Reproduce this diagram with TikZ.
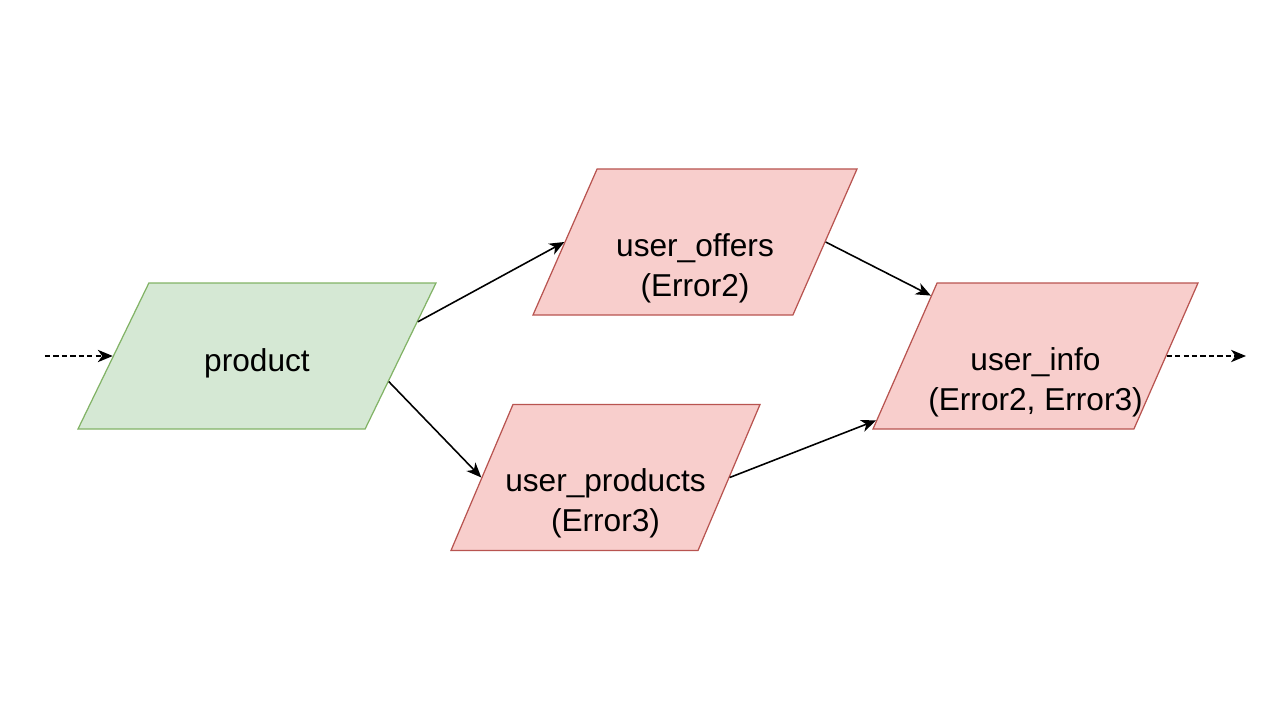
\documentclass[tikz,border=0pt]{standalone}
\usepackage{fontspec}
\setmainfont{Liberation Sans}
\usetikzlibrary{shapes.geometric,arrows.meta,positioning}
\definecolor{goodfill}{HTML}{D5E8D4}
\definecolor{goodline}{HTML}{82B366}
\definecolor{errfill}{HTML}{F8CECC}
\definecolor{errline}{HTML}{B85450}

\begin{document}
\begin{tikzpicture}[
  dbox/.style={trapezium,trapezium stretches body,trapezium left angle=66.3,trapezium right angle=113.7,
               text height=2.54cm,text depth=0.38cm,inner xsep=-6pt,inner ysep=0pt,
               align=center,line width=0.7pt,font=\fontsize{18}{22.7}\selectfont},
  goodbox/.style={dbox,draw=goodline,fill=goodfill,text height=1.76cm,text depth=1.16cm},
  errbox/.style={dbox,draw=errline,fill=errfill},
  arr/.style={-{Stealth[length=8.5pt,width=7pt,inset=2.5pt]},line width=0.9pt},
  flow/.style={arr,dash pattern=on 3pt off 1.8pt}
]
\useasboundingbox (-5.14,-7.28) rectangle (20.46,7.12);

\node[goodbox,trapezium left angle=64.1,trapezium right angle=115.9,minimum width=7.16cm] (product) {product};
\node[errbox,minimum width=6.48cm,above right=2.28cm and 8.76cm of product.center,anchor=center] (offers) {user\_offers\\(Error2)};
\node[errbox,trapezium left angle=67,trapezium right angle=113,minimum width=6.18cm,below right=2.43cm and 6.97cm of product.center,anchor=center] (products) {user\_products\\(Error3)};
\node[errbox,minimum width=6.5cm,right=15.57cm of product.center,anchor=center] (info) {user\_info\\(Error2, Error3)};

\coordinate[left=4.24cm of product.center] (src);
\coordinate[right=19.78cm of product.center] (sink);

% data flow
\draw[flow] (src) -- (product.left side);
\draw[arr] (product.12) -- (offers.left side);
\draw[arr] (product.-11) -- (products.left side);
\draw[arr] (offers.right side) -- (info.150);
\draw[arr] (products.right side) -- (info.202);
\draw[flow] (info.right side) -- (sink);
\end{tikzpicture}
\end{document}
